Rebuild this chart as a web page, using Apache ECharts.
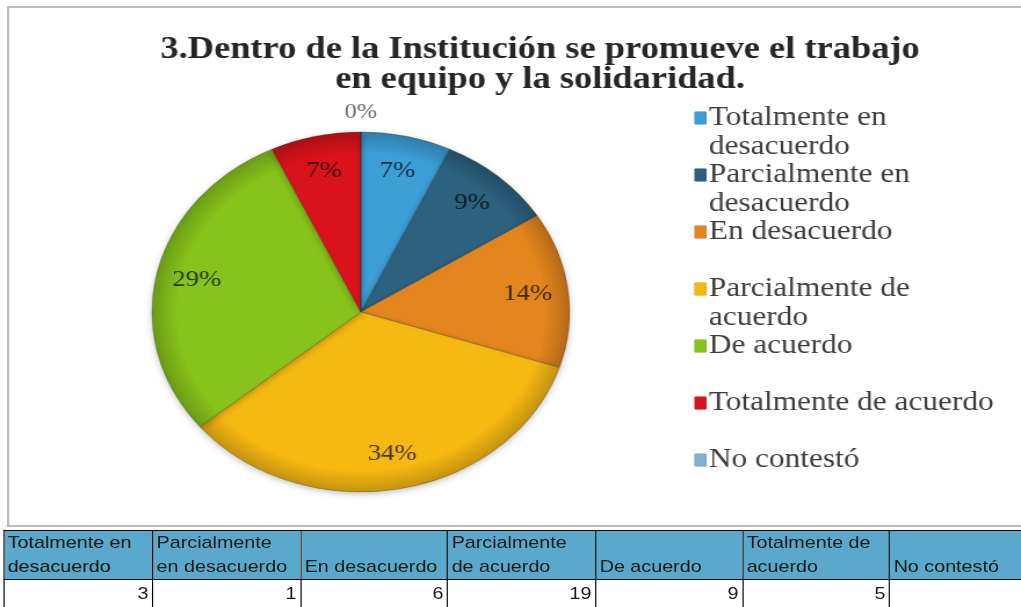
<!DOCTYPE html>
<html>
<head>
<meta charset="utf-8">
<script src="https://cdn.jsdelivr.net/npm/echarts@6/dist/echarts.min.js"></script>
<style>
html, body { margin: 0; padding: 0; background: #fff; overflow: hidden; }
/* the source picture is stretched sideways, so the whole page is too */
#page { position: absolute; left: 0; top: 0; width: 880px; height: 607px; transform: scaleX(1.1602); transform-origin: 0 0; }
#frame { position: absolute; left: 6px; top: 6px; width: 900px; height: 517px; border: 2px solid #bdbdbd; border-right: none; }
#chart { position: absolute; left: 0; top: 0; width: 880px; height: 527px; }
#tbl { position: absolute; left: 2.6px; top: 530px; border-collapse: collapse; table-layout: fixed; width: 891px;
  font-family: 'Liberation Sans', Arial, sans-serif; font-size: 17px; color: #1a1a1a; }
#tbl td { border: 1px solid #000; padding: 0 2px 0 3px; overflow: hidden; }
#tbl tr.h td { background: #5aa8cb; height: 47px; vertical-align: bottom; line-height: 24px; white-space: pre; text-align: left; }
#tbl tr.v td { height: 27px; line-height: 27px; text-align: right; padding-right: 3px; }
</style>
</head>
<body>
<div id="page">
  <div id="frame"></div>
  <div id="chart"></div>
  <table id="tbl"><colgroup></colgroup><tr class="h"></tr><tr class="v"></tr></table>
</div>
<script>
// categorias de la pregunta 3
var categories = ['Totalmente en desacuerdo', 'Parcialmente en desacuerdo', 'En desacuerdo',
  'Parcialmente de acuerdo', 'De acuerdo', 'Totalmente de acuerdo', 'No contestó'];
var legendLabels = ['Totalmente en\ndesacuerdo', 'Parcialmente en\ndesacuerdo', 'En desacuerdo',
  'Parcialmente de\nacuerdo', 'De acuerdo', 'Totalmente de acuerdo', 'No contestó'];
var pieShares = [7, 9, 14, 34, 29, 7, 0];   // % del pastel
var tableLabels = ['Totalmente en\ndesacuerdo', 'Parcialmente\nen desacuerdo', 'En desacuerdo',
  'Parcialmente\nde acuerdo', 'De acuerdo', 'Totalmente de\nacuerdo', 'No contestó'];
var tableCounts = [3, 1, 6, 19, 9, 5, null];  // fila de la tabla
var colors = ['#3b9fd6', '#2c6280', '#e5851d', '#f6b912', '#86c31b', '#d9131b', '#7fb1d1'];

var cx = 311, cy = 312, R = 180;

function shade(hex, k) {
  var n = parseInt(hex.slice(1), 16);
  var r = (n >> 16) & 255, g = (n >> 8) & 255, b = n & 255;
  return 'rgb(' + Math.round(r * k) + ',' + Math.round(g * k) + ',' + Math.round(b * k) + ')';
}

// tabla de abajo
var colW = [128.4, 127.6, 126.7, 127.6, 126.7, 126.7, 127];
var cg = document.querySelector('#tbl colgroup');
var hr = document.querySelector('#tbl tr.h');
var vr = document.querySelector('#tbl tr.v');
tableLabels.forEach(function (t, i) {
  var c = document.createElement('col'); c.style.width = colW[i] + 'px'; cg.appendChild(c);
  var h = document.createElement('td'); h.textContent = t; hr.appendChild(h);
  var v = document.createElement('td'); v.textContent = tableCounts[i] == null ? '' : tableCounts[i]; vr.appendChild(v);
});

var rich = {
  t: { fontFamily: 'Liberation Serif', fontSize: 27, color: '#3d3d3d', lineHeight: 28.5 },
  g: { width: 2.5, lineHeight: 28.5 },
  p: { width: 12, lineHeight: 28.5 }
};
colors.forEach(function (c, i) {
  rich['s' + i] = { width: 9.5, height: 12, backgroundColor: c, borderColor: shade(c, 0.8), borderWidth: 0.5, lineHeight: 28.5 };
});

var chart = echarts.init(document.getElementById('chart'));
chart.setOption({
  animation: false,
  title: {
    text: '3.Dentro de la Institución se promueve el trabajo\nen equipo y la solidaridad.',
    left: 465.5, top: 35, padding: 0, textAlign: 'center',
    textStyle: { fontFamily: 'Liberation Serif', fontWeight: 'bold', fontSize: 31.4, lineHeight: 30, color: '#262626' }
  },
  legend: {
    orient: 'vertical', left: 593, top: 104.5, padding: 0, itemGap: 1.5,
    itemWidth: 0, itemHeight: 0, icon: 'rect', itemStyle: { opacity: 0 },
    selectedMode: false,
    data: categories,
    formatter: function (name) {
      var i = categories.indexOf(name);
      var lines = legendLabels[i].split('\n');
      return '{s' + i + '|}{g|}{t|' + lines[0] + '}\n{p|}' + (lines[1] ? '{t|' + lines[1] + '}' : '{t| }');
    },
    textStyle: { rich: rich }
  },
  series: [
    {
      type: 'pie', center: [cx, cy], radius: R, startAngle: 90, clockwise: true,
      label: { show: false }, labelLine: { show: false },
      emphasis: { disabled: true },
      data: categories.map(function (name, i) {
        return {
          name: name, value: pieShares[i],
          itemStyle: {
            color: {
              type: 'radial', x: cx, y: cy, r: R, global: true,
              colorStops: [
                { offset: 0, color: shade(colors[i], 1) },
                { offset: 0.88, color: colors[i] },
                { offset: 1, color: shade(colors[i], 0.8) }
              ]
            },
            borderColor: 'rgba(40,40,40,0.35)', borderWidth: 0.8,
            shadowBlur: 6, shadowColor: 'rgba(0,0,0,0.25)', shadowOffsetY: 2
          }
        };
      })
    },
    {
      // capa solo para las etiquetas (a ~0.79 del radio)
      type: 'pie', center: [cx, cy], radius: [104, R], startAngle: 90, clockwise: true,
      silent: true, avoidLabelOverlap: false,
      itemStyle: { color: 'rgba(0,0,0,0)' },
      emphasis: { disabled: true },
      labelLine: { show: false },
      label: {
        show: true, position: 'inside', formatter: '{d}%',
        fontFamily: 'Liberation Serif', fontSize: 23, color: 'rgba(0,0,0,0.72)'
      },
      data: categories.map(function (name, i) {
        var d = { name: name, value: pieShares[i] };
        if (pieShares[i] === 0) d.label = { offset: [0, -55], color: '#6a6a6a', fontSize: 21 };
        return d;
      })
    }
  ]
});
</script>
</body>
</html>
